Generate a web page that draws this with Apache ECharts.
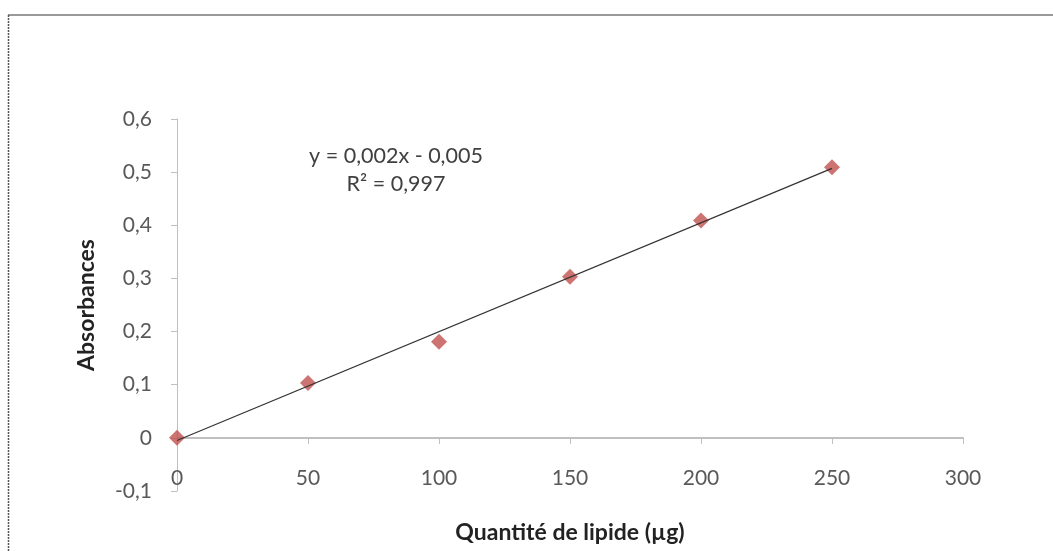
<!DOCTYPE html>
<html>
<head>
<meta charset="utf-8">
<script src="https://cdn.jsdelivr.net/npm/echarts@6/dist/echarts.min.js"></script>
<style>
  html, body { margin: 0; padding: 0; background: #fff; }
  #main { width: 1053px; height: 551px; }
</style>
</head>
<body>
<div id="main"></div>
<script>
var quantite = [0, 50, 100, 150, 200, 250];
var absorbances = [0, 0.103, 0.181, 0.303, 0.409, 0.509];
// trend line ends
var trendX = [0, 250];
var trendY = [-0.005, 0.507];
var equation = 'y = 0,002x - 0,005';
var rsquare = 'R² = 0,997';

var chartDom = document.getElementById('main');
var myChart = echarts.init(chartDom);
var option;

var points = quantite.map(function (x, i) { return [x, absorbances[i]]; });
var trend = trendX.map(function (x, i) { return [x, trendY[i]]; });

function fr(v) {
  return String(v).replace('.', ',');
}

var font = 'Lato, "Open Sans", sans-serif';

option = {
  animation: false,
  backgroundColor: '#fff',
  grid: { left: 177, right: 90, top: 119, bottom: 60, outerBoundsMode: 'none', containLabel: false },
  xAxis: {
    type: 'value',
    min: 0,
    max: 300,
    interval: 50,
    name: 'Quantité de lipide (µg)',
    nameLocation: 'middle',
    nameGap: 30,
    nameMoveOverlap: false,
    nameTextStyle: { fontFamily: font, fontWeight: 'bold', fontSize: 23, color: '#222' },
    axisLine: { onZero: true, lineStyle: { color: '#bfbfbf', width: 2 } },
    axisTick: { show: true, length: 6, lineStyle: { color: '#bfbfbf' } },
    axisLabel: { margin: -23, fontFamily: font, fontSize: 21, color: '#595959', formatter: fr },
    splitLine: { show: false }
  },
  yAxis: {
    type: 'value',
    min: -0.1,
    max: 0.6,
    interval: 0.1,
    name: 'Absorbances',
    nameLocation: 'middle',
    nameGap: 79,
    nameMoveOverlap: false,
    nameTextStyle: { fontFamily: font, fontWeight: 'bold', fontSize: 23, color: '#222' },
    axisLine: { show: true, onZero: false, lineStyle: { color: '#bfbfbf', width: 1 } },
    axisTick: { show: true, length: 6, lineStyle: { color: '#bfbfbf' } },
    axisLabel: { margin: 25, fontFamily: font, fontSize: 21, color: '#595959',
      formatter: function (v) { return fr(Math.round(v * 10) / 10); } },
    splitLine: { show: false }
  },
  graphic: [
    { type: 'line', shape: { x1: 8, y1: 15, x2: 1053, y2: 15 }, style: { stroke: '#999', lineWidth: 2 } },
    { type: 'line', shape: { x1: 8.5, y1: 15, x2: 8.5, y2: 551 }, style: { stroke: '#555', lineWidth: 1.5, lineDash: [2, 1] } },
    { type: 'text', style: { x: 396, y: 156, text: equation, textAlign: 'center', textVerticalAlign: 'middle',
      fontFamily: font, fontSize: 21.5, fill: '#404040' } },
    { type: 'text', style: { x: 396, y: 184, text: rsquare, textAlign: 'center', textVerticalAlign: 'middle',
      fontFamily: font, fontSize: 21.5, fill: '#404040' } }
  ],
  series: [
    {
      name: 'Tendance',
      type: 'line',
      data: trend,
      symbol: 'none',
      lineStyle: { color: '#333', width: 1.2 },
      z: 3
    },
    {
      name: 'Absorbances',
      type: 'scatter',
      data: points,
      symbol: 'diamond',
      symbolSize: [16, 16],
      itemStyle: { color: '#c0504d' },
      z: 2
    }
  ]
};

option && myChart.setOption(option);
</script>
</body>
</html>
